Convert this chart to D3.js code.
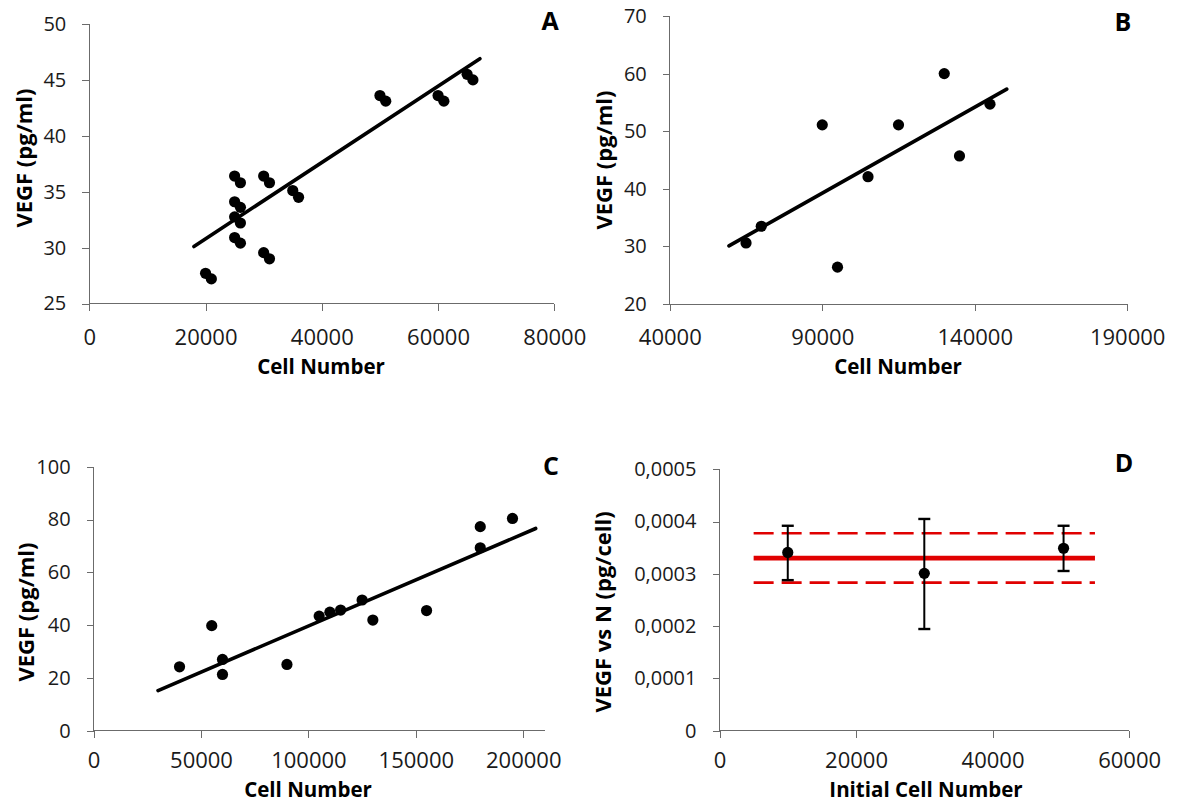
<!DOCTYPE html>
<html>
<head>
<meta charset="utf-8">
<script src="https://cdn.jsdelivr.net/npm/d3@7"></script>
<style>
  body { margin: 0; background: #fff; }
  svg { display: block; font-family: "Open Sans", sans-serif; }
  .axis line { stroke: #6b6b6b; stroke-width: 1; shape-rendering: crispEdges; }
  .axis text { fill: #1a1a1a; font-family: "Open Sans", sans-serif; }
  .title { font-weight: bold; fill: #000; font-size: 22px; }
  .xtitle { font-size: 20.5px; }
  .letter { font-weight: bold; fill: #000; font-size: 25px; }
</style>
</head>
<body>
<svg id="chart" width="1179" height="803"></svg>
<script>
// Panel A
var aCells = [20000, 21000, 25000, 26000, 25000, 26000, 25000, 26000, 25000, 26000, 30000, 31000, 30000, 31000, 35000, 36000, 50000, 51000, 60000, 61000, 65000, 66000];
var aVegf  = [27.7, 27.2, 36.4, 35.8, 34.1, 33.6, 32.75, 32.2, 30.9, 30.4, 36.4, 35.8, 29.55, 29.0, 35.1, 34.5, 43.6, 43.1, 43.6, 43.1, 45.5, 45.0];
var aTrendX = [18000, 67200], aTrendY = [30.1, 46.9];
var aXTicks = [0, 20000, 40000, 60000, 80000];
var aYTicks = [25, 30, 35, 40, 45, 50];

// Panel B
var bCells = [65000, 70000, 90000, 95000, 105000, 115000, 130000, 135000, 145000];
var bVegf  = [30.6, 33.5, 51.1, 26.4, 42.1, 51.1, 60.0, 45.7, 54.7];
var bTrendX = [59400, 150500], bTrendY = [30.1, 57.3];
var bXTicks = [40000, 90000, 140000, 190000];
var bYTicks = [20, 30, 40, 50, 60, 70];

// Panel C
var cCells = [40000, 55000, 60000, 60000, 90000, 105000, 110000, 115000, 125000, 130000, 155000, 180000, 180000, 195000];
var cVegf  = [24.2, 39.8, 27.0, 21.3, 25.1, 43.4, 44.9, 45.7, 49.5, 41.9, 45.5, 77.3, 69.3, 80.4];
var cTrendX = [30000, 205800], cTrendY = [15.2, 76.6];
var cXTicks = [0, 50000, 100000, 150000, 200000];
var cYTicks = [0, 20, 40, 60, 80, 100];

// Panel D
var dCells = [10000, 30000, 50400];
var dRatio = [0.000341, 0.000301, 0.000349];
var dUpper = [0.000392, 0.000405, 0.000392];
var dLower = [0.000288, 0.0001945, 0.0003055];
var dLineX = [5000, 55000];
var dMean = 0.00033, dHigh = 0.0003776, dLow = 0.0002832;
var dXTicks = [0, 20000, 40000, 60000];
var dYTicks = [0, 0.0001, 0.0002, 0.0003, 0.0004, 0.0005];
var dYLabels = ["0", "0,0001", "0,0002", "0,0003", "0,0004", "0,0005"];

var svg = d3.select("#chart");
svg.append("rect").attr("width", 1179).attr("height", 803).attr("fill", "#fff");

function panel(p) {
  var x = d3.scaleLinear().domain(p.xDomain).range(p.xRange);
  var y = d3.scaleLinear().domain(p.yDomain).range(p.yRange);
  var g = svg.append("g");

  var ya = g.append("g").attr("class", "axis")
    .attr("transform", "translate(" + p.xRange[0] + ",0)")
    .call(d3.axisLeft(y).tickValues(p.yTicks).tickSize(7).tickSizeOuter(0).tickPadding(16)
      .tickFormat(function(d, i) { return p.yLabels ? p.yLabels[i] : d; }));
  ya.selectAll("text").style("font-size", "20px");

  var xa = g.append("g").attr("class", "axis")
    .attr("transform", "translate(0," + p.yRange[0] + ")")
    .call(d3.axisBottom(x).tickValues(p.xTicks).tickSize(7).tickSizeOuter(0).tickFormat(d3.format("d")));
  xa.selectAll("text").style("font-size", "22px").attr("y", p.tickY).attr("dy", 0);
  ya.select(".domain").remove();
  xa.select(".domain").remove();

  // axis lines (x axis runs to the end of the domain, past the last tick in C)
  g.append("line")
    .attr("x1", p.xRange[0]).attr("x2", p.xRange[0])
    .attr("y1", p.yRange[0]).attr("y2", p.yRange[1])
    .attr("stroke", "#6b6b6b").attr("shape-rendering", "crispEdges");
  g.append("line")
    .attr("x1", p.xRange[0]).attr("x2", p.xRange[1])
    .attr("y1", p.yRange[0]).attr("y2", p.yRange[0])
    .attr("stroke", "#6b6b6b").attr("shape-rendering", "crispEdges");

  if (p.draw) p.draw(g, x, y);

  if (p.trendX) {
    g.append("line")
      .attr("x1", x(p.trendX[0])).attr("y1", y(p.trendY[0]))
      .attr("x2", x(p.trendX[1])).attr("y2", y(p.trendY[1]))
      .attr("stroke", "#000").attr("stroke-width", 3.6).attr("stroke-linecap", "round");
  }

  g.selectAll("circle.pt").data(p.xs).enter().append("circle")
    .attr("class", "pt")
    .attr("cx", function(d) { return x(d); })
    .attr("cy", function(d, i) { return y(p.ys[i]); })
    .attr("r", 5.6).attr("fill", "#000");

  g.append("text").attr("class", "title xtitle")
    .attr("x", p.xTitle[0]).attr("y", p.xTitle[1])
    .attr("text-anchor", "middle").text(p.xLabel);
  g.append("text").attr("class", "title")
    .attr("transform", "translate(" + p.yTitle[0] + "," + p.yTitle[1] + ") rotate(-90)")
    .attr("text-anchor", "middle").text(p.yLabel);
  g.append("text").attr("class", "letter")
    .attr("x", p.letterPos[0]).attr("y", p.letterPos[1])
    .attr("text-anchor", "middle").text(p.letter);
}

panel({
  xDomain: [0, 80000], xRange: [89.3, 554.3], yDomain: [25, 50], yRange: [303.5, 24],
  xTicks: aXTicks, yTicks: aYTicks, xs: aCells, ys: aVegf, trendX: aTrendX, trendY: aTrendY,
  xLabel: "Cell Number", yLabel: "VEGF (pg/ml)", letter: "A", tickY: 41,
  xTitle: [321, 374], yTitle: [32, 158], letterPos: [550, 30]
});

panel({
  xDomain: [40000, 190000], xRange: [669.8, 1127.2], yDomain: [20, 70], yRange: [304, 16],
  xTicks: bXTicks, yTicks: bYTicks, xs: bCells, ys: bVegf, trendX: bTrendX, trendY: bTrendY,
  xLabel: "Cell Number", yLabel: "VEGF (pg/ml)", letter: "B", tickY: 41,
  xTitle: [898, 374], yTitle: [612, 160], letterPos: [1123, 31]
});

panel({
  xDomain: [0, 210000], xRange: [93.6, 544.7], yDomain: [0, 100], yRange: [730.7, 466.7],
  xTicks: cXTicks, yTicks: cYTicks, xs: cCells, ys: cVegf, trendX: cTrendX, trendY: cTrendY,
  xLabel: "Cell Number", yLabel: "VEGF (pg/ml)", letter: "C", tickY: 37.5,
  xTitle: [308, 796.5], yTitle: [34, 612], letterPos: [551, 475]
});

panel({
  xDomain: [0, 60000], xRange: [719.5, 1129.1], yDomain: [0, 0.0005], yRange: [730.7, 469.3],
  xTicks: dXTicks, yTicks: dYTicks, yLabels: dYLabels, xs: dCells, ys: dRatio,
  xLabel: "Initial Cell Number", yLabel: "VEGF vs N (pg/cell)", letter: "D", tickY: 37.5,
  xTitle: [926, 796.5], yTitle: [611, 612], letterPos: [1124, 472],
  draw: function(g, x, y) {
    [dHigh, dLow].forEach(function(v) {
      g.append("line")
        .attr("x1", x(dLineX[0])).attr("x2", x(dLineX[1]))
        .attr("y1", y(v)).attr("y2", y(v))
        .attr("stroke", "#e00000").attr("stroke-width", 2.6)
        .attr("stroke-dasharray", "20,8");
    });
    g.append("line")
      .attr("x1", x(dLineX[0])).attr("x2", x(dLineX[1]))
      .attr("y1", y(dMean)).attr("y2", y(dMean))
      .attr("stroke", "#e00000").attr("stroke-width", 4.8);
    var eb = g.selectAll("g.err").data(dCells).enter().append("g").attr("class", "err");
    eb.append("line")
      .attr("x1", function(d) { return x(d); }).attr("x2", function(d) { return x(d); })
      .attr("y1", function(d, i) { return y(dUpper[i]); })
      .attr("y2", function(d, i) { return y(dLower[i]); })
      .attr("stroke", "#000").attr("stroke-width", 2);
    [dUpper, dLower].forEach(function(arr) {
      eb.append("line")
        .attr("x1", function(d) { return x(d) - 6; }).attr("x2", function(d) { return x(d) + 6; })
        .attr("y1", function(d, i) { return y(arr[i]); })
        .attr("y2", function(d, i) { return y(arr[i]); })
        .attr("stroke", "#000").attr("stroke-width", 2.4);
    });
  }
});
</script>
</body>
</html>
